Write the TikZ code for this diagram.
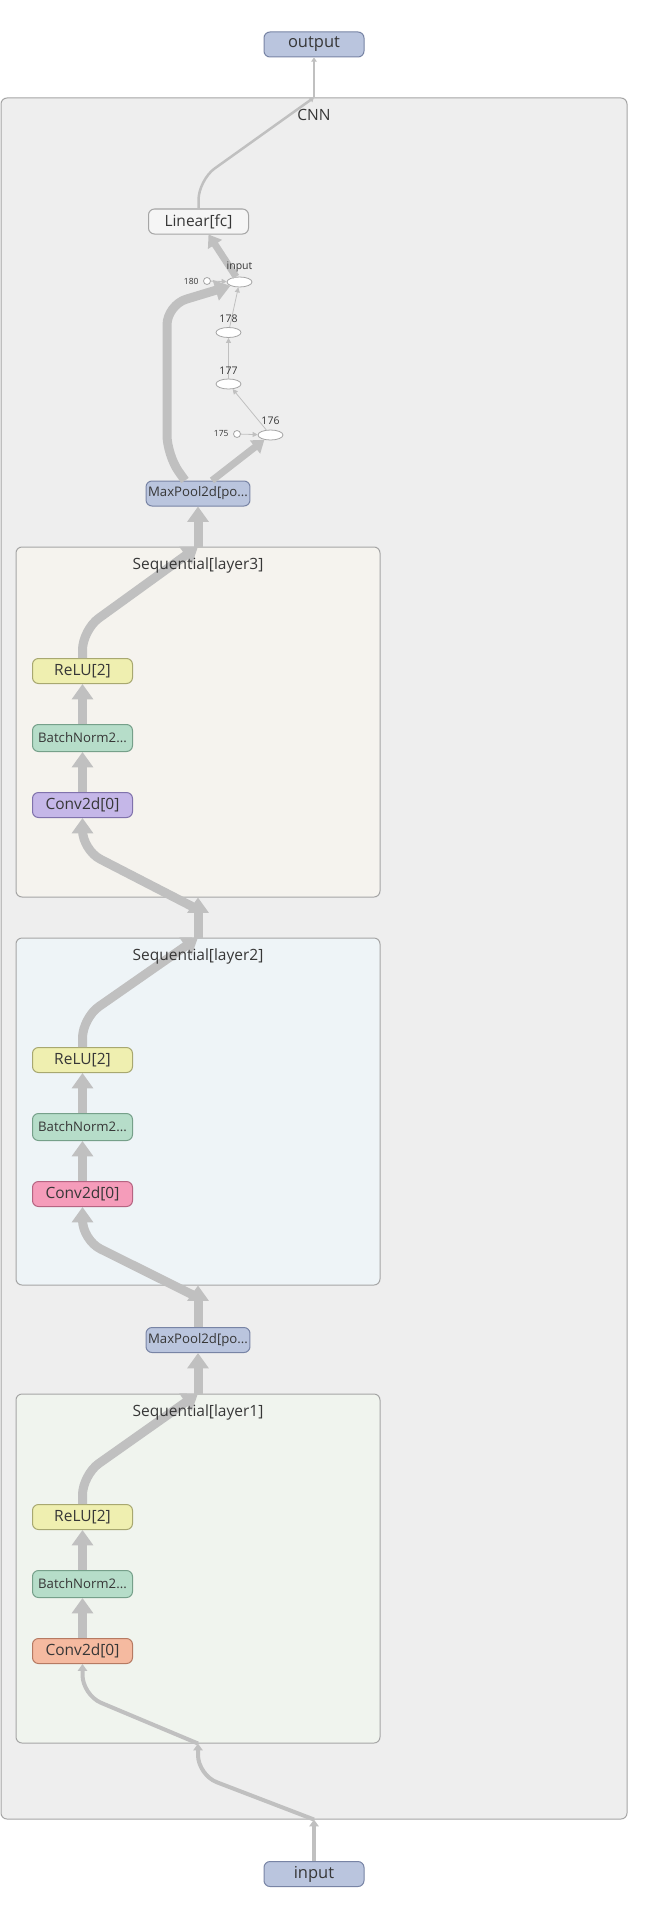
\documentclass[tikz,border=0pt]{standalone}
\usepackage{fontspec}
\setmainfont{Open Sans}
\usepackage{xcolor}
\usetikzlibrary{positioning}
\usetikzlibrary{arrows.meta}
\usetikzlibrary{shapes.geometric}

\definecolor{edgegray}{RGB}{192,192,192}
\definecolor{textgray}{RGB}{55,55,55}
\definecolor{boxline}{RGB}{165,165,165}
\definecolor{cnnfill}{RGB}{238,238,238}
\definecolor{layerthree}{RGB}{245,243,238}
\definecolor{layertwo}{RGB}{238,244,247}
\definecolor{layerone}{RGB}{240,244,238}
\definecolor{iofill}{RGB}{186,197,222}
\definecolor{ioline}{RGB}{120,132,165}
\definecolor{relufill}{RGB}{239,239,176}
\definecolor{reluline}{RGB}{168,168,112}
\definecolor{bnfill}{RGB}{182,221,201}
\definecolor{bnline}{RGB}{118,160,138}
\definecolor{convthree}{RGB}{197,183,232}
\definecolor{convthreeline}{RGB}{128,114,172}
\definecolor{convtwo}{RGB}{245,156,186}
\definecolor{convtwoline}{RGB}{182,100,130}
\definecolor{convone}{RGB}{245,186,160}
\definecolor{convoneline}{RGB}{182,122,98}

\begin{document}
\begin{tikzpicture}[x=1pt,y=-1pt,>={Triangle[width=0pt 2.3,length=0pt 1.7]},
    text=textgray,font=\fontsize{15.5}{18}\selectfont,
    op node/.style={rounded corners=6pt,draw,line width=1pt,minimum width=100pt,minimum height=25pt,inner sep=2pt},
    small node/.style={op node,font=\fontsize{13.2}{15}\selectfont},
    io node/.style={op node,fill=iofill,draw=ioline,font=\fontsize{16.5}{18}\selectfont},
    relu node/.style={op node,fill=relufill,draw=reluline},
    bn node/.style={small node,fill=bnfill,draw=bnline,minimum height=27pt},
    pool node/.style={small node,fill=iofill,draw=ioline},
    scope box/.style={draw=boxline,line width=1pt,rounded corners=6pt,inner sep=0pt},
    scope label/.style={anchor=north,yshift=-8pt,font=\fontsize{15.5}{18}\selectfont},
    tensor node/.style={ellipse,draw=boxline,fill=white,line width=0.8pt,minimum width=25pt,minimum height=10pt,inner sep=0pt},
    tensor label/.style={font=\fontsize{10.5}{12}\selectfont,anchor=south,yshift=1pt},
    const node/.style={circle,draw=boxline,fill=white,line width=0.8pt,minimum size=7pt,inner sep=0pt,
                       label={[font=\fontsize{8.5}{10}\selectfont,label distance=1pt]left:#1}},
    wide/.style={draw=edgegray,line width=9pt,->,rounded corners=20pt},
    mid/.style={wide,line width=7pt},
    slim/.style={wide,line width=4pt},
    thin/.style={wide,line width=2.5pt},
    hair/.style={draw=edgegray,line width=0.8pt,->,>={Triangle[width=5pt,length=5pt]}}]

  \path[use as bounding box,fill=white] (0,0) rectangle (657,1905);

  \node[scope box,fill=cnnfill,minimum width=626pt,minimum height=1721pt] (cnn) at (314,958.5) {};
  \node[scope box,fill=layerthree,minimum width=364pt,minimum height=350pt] (l3) at (198,722) {};
  \node[scope box,fill=layertwo,minimum width=364pt,minimum height=347pt] (l2) at (198,1111.5) {};
  \node[scope box,fill=layerone,minimum width=364pt,minimum height=349pt] (l1) at (198,1568.5) {};

  \node[io node] (output) at (314,44.5) {output};
  \node[io node] (input) at (314,1874) {input};
  \node[op node,fill=white!96!black,draw=boxline] (linear) at (198.5,221.5) {Linear[fc]};

  \node[tensor node] (inputop) at (239.5,282) {};
  \node[const node=180] (c180) at (207,281) {};
  \node[tensor node] (op178) at (228.5,332.5) {};
  \node[tensor node] (op177) at (228.5,384) {};
  \node[tensor node] (op176) at (270.5,435) {};
  \node[const node=175] (c175) at (237,434) {};

  \node[pool node] (pool3) at (198,493.5) {MaxPool2d[po...};
  \node[relu node] (relu3) at (82.5,671) {ReLU[2]};
  \node[bn node] (bn3) [below=40pt of relu3] {BatchNorm2...};
  \node[op node,fill=convthree,draw=convthreeline] (conv3) [below=40pt of bn3] {Conv2d[0]};

  \node[relu node] (relu2) at (82.5,1060) {ReLU[2]};
  \node[bn node] (bn2) [below=40pt of relu2] {BatchNorm2...};
  \node[op node,fill=convtwo,draw=convtwoline] (conv2) [below=40pt of bn2] {Conv2d[0]};

  \node[pool node] (pool1) at (198,1340) {MaxPool2d[po...};
  \node[relu node] (relu1) at (82.5,1517) {ReLU[2]};
  \node[bn node] (bn1) [below=40pt of relu1] {BatchNorm2...};
  \node[op node,fill=convone,draw=convoneline] (conv1) [below=40pt of bn1] {Conv2d[0]};

  \draw[slim] (input) -- (cnn.south);
  \draw[slim] (cnn.south) -- (198,1775) -- (l1.south);
  \draw[slim] (l1.south) -- (82.5,1695) -- (conv1.south);
  \draw[wide] (conv1) -- (bn1);
  \draw[wide] (bn1) -- (relu1);
  \draw[wide] (relu1.north) -- (82.5,1475) -- (l1.north);
  \draw[wide] (l1.north) -- (pool1.south);

  \draw[wide] (pool1.north) -- (l2.south);
  \draw[wide] ([yshift=-12pt]l2.south) -- (82.5,1240) -- (conv2.south);
  \draw[wide] (conv2) -- (bn2);
  \draw[wide] (bn2) -- (relu2);
  \draw[wide] (relu2.north) -- (82.5,1018) -- (l2.north);

  \draw[wide] (l2.north) -- (l3.south);
  \draw[wide] ([yshift=-12pt]l3.south) -- (82.5,850) -- (conv3.south);
  \draw[wide] (conv3) -- (bn3);
  \draw[wide] (bn3) -- (relu3);
  \draw[wide] (relu3.north) -- (82.5,630) -- (l3.north);
  \draw[wide] (l3.north) -- (pool3.south);

  \draw[wide] ([xshift=-13pt]pool3.north) -- (167,455) -- (167,305) -- (inputop.south west);
  \draw[mid] ([xshift=14pt]pool3.north) -- (op176);
  \draw[hair] (c175) -- (op176);
  \draw[hair] (op176) -- (op177);
  \draw[hair] (op177) -- (op178);
  \draw[hair] (op178) -- (inputop);
  \draw[hair] (c180) -- (inputop);
  \draw[mid] (inputop) -- ([xshift=10pt]linear.south);

  \draw[thin] (linear.north) -- (198.5,180) -- (cnn.north);
  \draw[thin] (cnn.north) -- (output);

  \node[scope label] (cnnname) at (cnn.north) {CNN};
  \node[scope label] (l3name) at (l3.north) {Sequential[layer3]};
  \node[scope label] (l2name) at (l2.north) {Sequential[layer2]};
  \node[scope label] (l1name) at (l1.north) {Sequential[layer1]};
  \node[tensor label] (inputname) at (inputop.north) {input};
  \node[tensor label] (name178) at (op178.north) {178};
  \node[tensor label] (name177) at (op177.north) {177};
  \node[tensor label] (name176) at (op176.north) {176};
\end{tikzpicture}
\end{document}
